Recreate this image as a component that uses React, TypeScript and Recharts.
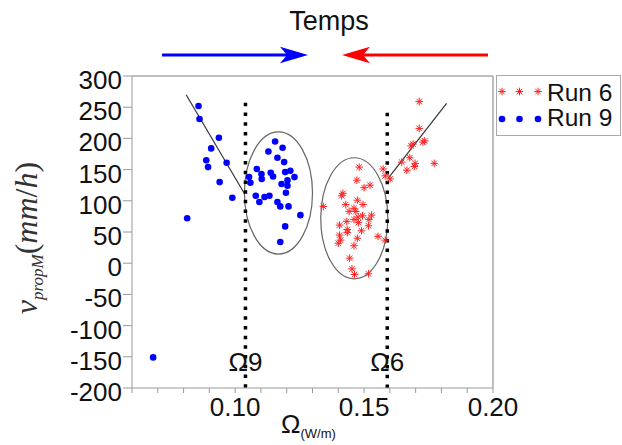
import React from "react";
import {
  ScatterChart,
  Scatter,
  XAxis,
  YAxis,
  ReferenceLine,
  ReferenceArea,
  ReferenceDot,
} from "recharts";

// ---- Data -------------------------------------------------------------
const run9X = [
  0.0858, 0.0862, 0.0937, 0.0907, 0.0888, 0.0895, 0.0967, 0.094, 0.0989, 0.0814,
  0.1155, 0.1184, 0.1129, 0.1164, 0.119, 0.1084, 0.1054, 0.1059, 0.1102, 0.1103,
  0.1138, 0.1147, 0.1194, 0.1214, 0.123, 0.1203, 0.118, 0.1203, 0.1197, 0.108,
  0.1114, 0.1133, 0.1094, 0.1164, 0.1175, 0.1207, 0.1253, 0.1194, 0.1175, 0.0682,
];
const run9Y = [
  252, 231, 201, 184, 165, 154, 161, 130, 105, 72,
  195, 185, 179, 169, 162, 151, 138, 129, 143, 135,
  145, 139, 146, 148, 138, 133, 127, 124, 113, 108,
  106, 108, 98, 98, 91, 91, 77, 59, 34, -151,
];
const run6X = [
  0.1714, 0.1714, 0.1735, 0.1728, 0.169, 0.1682, 0.1677, 0.1646, 0.1666, 0.1695,
  0.1698, 0.1772, 0.1574, 0.1582, 0.1601,
  0.1481, 0.1472, 0.15, 0.1523, 0.1418, 0.1413, 0.1474, 0.1429, 0.1496, 0.1342,
  0.1461, 0.1468, 0.1442, 0.1529, 0.1494, 0.1477, 0.1461, 0.1519, 0.1433, 0.1478,
  0.1405, 0.1517, 0.1435, 0.1435, 0.149, 0.1405, 0.1554, 0.1474, 0.1409, 0.14,
  0.1461, 0.1582, 0.1444, 0.1453, 0.1463, 0.1517,
];
const run6Y = [
  259, 216, 196, 194, 191, 188, 169, 162, 149, 155,
  160, 160, 151, 140, 135,
  154, 133, 121, 125, 112, 108, 101, 94, 94, 91,
  88, 83, 83, 77, 76, 74, 70, 70, 67, 65,
  61, 60, 54, 49, 52, 45, 43, 40, 37, 32,
  28, 37, 8, -9, -18, -17,
];

const xTicks = [0.06, 0.07, 0.08, 0.09, 0.1, 0.11, 0.12, 0.13, 0.14, 0.15, 0.16, 0.17, 0.18, 0.19, 0.2];
const xLabelled = ["0.10", "0.15", "0.20"];
const yTicks = [-200, -150, -100, -50, 0, 50, 100, 150, 200, 250, 300];

const seriesNames = ["Run 6", "Run 9"];

// fitted lines (two end points each)
const fitLeftX = [0.081, 0.1037];
const fitLeftY = [270, 111];
const fitRightX = [0.1593, 0.182];
const fitRightY = [136, 256];

// threshold lines
const omegaNames = ["Ω9", "Ω6"];
const omegaX = [0.104, 0.159];
const omegaTop = [257, 241];
const omegaLabelY = -158;

// ellipses (x1, x2, y1, y2)
const ellipseX1 = [0.1036, 0.1332];
const ellipseX2 = [0.13, 0.1592];
const ellipseY1 = [14.7, -25];
const ellipseY2 = [210.3, 169];

const run9 = run9X.map((x, i) => ({ x, y: run9Y[i] }));
const run6 = run6X.map((x, i) => ({ x, y: run6Y[i] }));

// ---- Styling helpers -------------------------------------------------------
const SANS = "'Liberation Sans', Arial, sans-serif";
const BLUE = "#0000ff";
const RED = "#f22";

const Star = (props: any) => {
  const { cx, cy } = props;
  const r = 3.8;
  const d = r * 0.72;
  return (
    <g stroke={RED} strokeWidth={1} fill="none">
      <line x1={cx - r} y1={cy} x2={cx + r} y2={cy} />
      <line x1={cx} y1={cy - r} x2={cx} y2={cy + r} />
      <line x1={cx - d} y1={cy - d} x2={cx + d} y2={cy + d} />
      <line x1={cx - d} y1={cy + d} x2={cx + d} y2={cy - d} />
    </g>
  );
};

const Dot = (props: any) => {
  const { cx, cy } = props;
  return <circle cx={cx} cy={cy} r={3.3} fill={BLUE} />;
};

const EllipseShape = (props: any) => {
  const { x, y, width, height } = props;
  return (
    <ellipse
      cx={x + width / 2}
      cy={y + height / 2}
      rx={Math.abs(width) / 2}
      ry={Math.abs(height) / 2}
      fill="none"
      stroke="#666"
      strokeWidth={1.2}
    />
  );
};

const YTick = (props: any) => {
  const { x, y, payload } = props;
  return (
    <text x={x} y={y + 13} textAnchor="end" fontSize={26} fontFamily={SANS} fill="#111">
      {payload.value}
    </text>
  );
};

const XTick = (props: any) => {
  const { x, y, payload } = props;
  const label = payload.value.toFixed(2);
  if (!xLabelled.includes(label)) return null;
  return (
    <text x={x} y={y + 21} textAnchor="middle" fontSize={26} fontFamily={SANS} fill="#111">
      {label}
    </text>
  );
};

const LegendBox = () => {
  const xs = [6, 23.5, 42];
  return (
    <svg width={128} height={62} style={{ position: "absolute", left: 496, top: 75 }}>
      <rect x={0.5} y={0.5} width={124} height={60} fill="#fff" stroke="#aaa" strokeWidth={1} />
      {xs.map((x) => (
        <Star key={"s" + x} cx={x} cy={16.5} />
      ))}
      {xs.map((x) => (
        <circle key={"c" + x} cx={x} cy={44} r={3.3} fill={BLUE} />
      ))}
      <text x={51} y={26} fontSize={24.5} fontFamily={SANS} fill="#111">{seriesNames[0]}</text>
      <text x={51} y={50.5} fontSize={24.5} fontFamily={SANS} fill="#111">{seriesNames[1]}</text>
    </svg>
  );
};

export default function App() {
  return (
    <div style={{ position: "absolute", left: 0, top: 0, width: 622, height: 445, background: "#fff", overflow: "hidden" }}>
      <ScatterChart
        width={622}
        height={445}
        margin={{ top: 76, right: 129, bottom: 0, left: 0 }}
      >
        <XAxis
          type="number"
          dataKey="x"
          domain={[0.06, 0.2]}
          ticks={xTicks}
          interval={0}
          height={57}
          tickSize={5}
          tickMargin={2}
          stroke="#999"
          tick={<XTick />}
          allowDataOverflow
        />
        <YAxis
          type="number"
          dataKey="y"
          domain={[-200, 300]}
          ticks={yTicks}
          interval={0}
          width={132}
          tickSize={9}
          tickMargin={1}
          stroke="#999"
          tick={<YTick />}
          allowDataOverflow
        />
        <ReferenceLine y={300} stroke="#aaa" strokeWidth={1.5} />
        <ReferenceLine x={0.2} stroke="#aaa" strokeWidth={1.5} />

        {ellipseX1.map((x1, i) => (
          <ReferenceArea
            key={"e" + i}
            x1={x1}
            x2={ellipseX2[i]}
            y1={ellipseY1[i]}
            y2={ellipseY2[i]}
            shape={<EllipseShape />}
            ifOverflow="visible"
          />
        ))}

        <ReferenceLine
          segment={[
            { x: fitLeftX[0], y: fitLeftY[0] },
            { x: fitLeftX[1], y: fitLeftY[1] },
          ]}
          stroke="#333"
          strokeWidth={1.2}
        />
        <ReferenceLine
          segment={[
            { x: fitRightX[0], y: fitRightY[0] },
            { x: fitRightX[1], y: fitRightY[1] },
          ]}
          stroke="#333"
          strokeWidth={1.2}
        />

        {omegaX.map((x, i) => (
          <ReferenceLine
            key={"o" + i}
            segment={[
              { x, y: omegaTop[i] },
              { x, y: -200 },
            ]}
            stroke="#000"
            strokeWidth={3.5}
            strokeDasharray="3.5 6.2"
          />
        ))}

        <Scatter name={seriesNames[0]} data={run6} shape={<Star />} isAnimationActive={false} />
        <Scatter name={seriesNames[1]} data={run9} shape={<Dot />} isAnimationActive={false} />

        {omegaX.map((x, i) => (
          <ReferenceDot
            key={"ol" + i}
            x={x}
            y={omegaLabelY}
            r={0}
            stroke="none"
            fill="none"
            label={{
              value: omegaNames[i],
              position: "center",
              fontSize: 26,
              fontFamily: SANS,
              fill: "#111",
            }}
          />
        ))}
      </ScatterChart>

      <LegendBox />

      <svg
        width={622}
        height={445}
        style={{ position: "absolute", left: 0, top: 0, pointerEvents: "none" }}
      >
        <text x={329} y={30} textAnchor="middle" fontSize={27} fontFamily={SANS} fill="#111">
          Temps
        </text>
        <line x1={162} y1={55} x2={290} y2={55} stroke={BLUE} strokeWidth={3.2} />
        <polygon points="308,55 280,46.7 287,55 280,63.3" fill={BLUE} />
        <line x1={360} y1={55} x2={488} y2={55} stroke="#ff0000" strokeWidth={3.2} />
        <polygon points="342,55 370,46.7 363,55 370,63.3" fill="#ff0000" />

        <text
          transform="translate(37,238) rotate(-90)"
          textAnchor="middle"
          fontFamily="'Liberation Serif', 'Times New Roman', serif"
          fill="#333"
          fontSize={32}
        >
          <tspan fontStyle="italic">v</tspan>
          <tspan fontStyle="italic" fontSize={17} dy={6}>propM</tspan>
          <tspan dy={-6}>(</tspan>
          <tspan fontStyle="italic">mm</tspan>
          <tspan>/</tspan>
          <tspan fontStyle="italic">h</tspan>
          <tspan>)</tspan>
        </text>

        <text x={281} y={433} fontFamily={SANS} fill="#111">
          <tspan fontSize={26}>Ω</tspan>
          <tspan fontSize={13} dy={5}>(W/m)</tspan>
        </text>
      </svg>
    </div>
  );
}
